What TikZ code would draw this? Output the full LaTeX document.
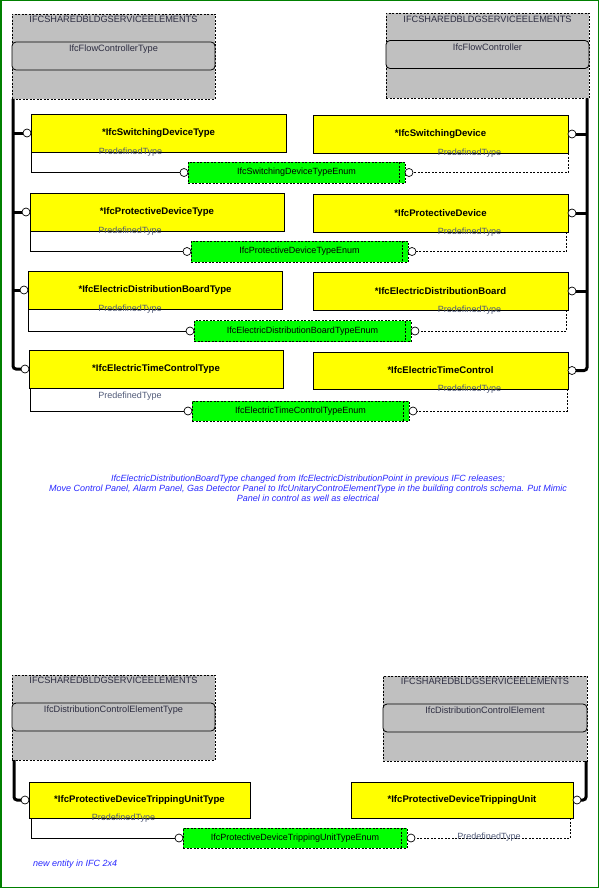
\documentclass[tikz,border=0pt]{standalone}
\usepackage{fontspec}
\setmainfont{Liberation Sans}
\usepackage{tikz}
\usetikzlibrary{positioning}

\definecolor{pkggray}{RGB}{192,192,192}
\definecolor{entyellow}{RGB}{255,255,0}
\definecolor{enumgreen}{RGB}{0,255,0}
\definecolor{framegreen}{RGB}{0,128,0}
\definecolor{pkgtext}{RGB}{45,45,65}
\definecolor{roletext}{RGB}{80,90,120}
\definecolor{notetext}{RGB}{40,40,255}

\tikzset{
  pkgbox/.style={draw, fill=pkggray, dash pattern=on 2pt off 1.5pt, line width=0.7pt,
    minimum width=203pt, minimum height=85pt, inner sep=0pt, outer sep=0pt},
  classbox/.style={draw, fill=pkggray, rounded corners=4pt, line width=0.8pt,
    minimum width=203pt, minimum height=28pt, inner sep=0pt, outer sep=0pt},
  pkgtitle/.style={inner sep=0pt, text=pkgtext, font=\fontsize{9.2}{10}\selectfont},
  entity/.style={draw, fill=entyellow, line width=0.8pt, minimum width=255pt,
    minimum height=38pt, inner sep=0pt, outer sep=0pt, font=\fontsize{9.6}{10}\selectfont\bfseries},
  enumbox/.style={draw, fill=enumgreen, dash pattern=on 2pt off 1.5pt, line width=0.7pt,
    minimum width=217pt, minimum height=21pt, inner sep=0pt, outer sep=0pt,
    font=\fontsize{9}{10}\selectfont},
  enumtick/.style={dash pattern=on 2pt off 1.5pt, line width=0.7pt},
  port/.style={circle, draw, fill=white, minimum size=8pt, inner sep=0pt, outer sep=0pt, line width=0.7pt},
  bus/.style={line width=3pt, rounded corners=3pt},
  role/.style={line width=0.8pt},
  roledash/.style={line width=0.7pt, dash pattern=on 2pt off 1.5pt},
  rolelbl/.style={inner sep=0pt, text=roletext, font=\fontsize{9}{10}\selectfont},
  notelbl/.style={inner sep=0pt, text=notetext, font=\fontsize{9}{10}\selectfont\itshape}
}

\begin{document}
\begin{tikzpicture}[x=1pt, y=-1pt]
\useasboundingbox (0,0) rectangle (600,888);
\draw[framegreen, line width=1.5pt] (0.75,0.75) rectangle (598.5,887.25);

% flow controller packages
\node[pkgbox] (ftpkg) at (113.5,56.5) {};
\node[pkgtitle, below=2pt of ftpkg.north] (fttitle) {IFCSHAREDBLDGSERVICEELEMENTS};
\node[classbox, below=28pt of ftpkg.north] (ftclass) {};
\node[pkgtitle, below=3pt of ftclass.north] (ftname) {IfcFlowControllerType};

\node[pkgbox] (fcpkg) at (487.5,56) {};
\node[pkgtitle, below=2pt of fcpkg.north] (fctitle) {IFCSHAREDBLDGSERVICEELEMENTS};
\node[classbox, below=27pt of fcpkg.north] (fcclass) {};
\node[pkgtitle, below=3pt of fcclass.north] (fcname) {IfcFlowController};

% switching device
\node[entity] (swtype) at (158.5,133) {*IfcSwitchingDeviceType};
\node[entity] (swdev) at (440.5,134) {*IfcSwitchingDevice};
\node[enumbox] (swenum) at (296.5,172.5) {IfcSwitchingDeviceTypeEnum};
\node[port, left=0pt of swtype] (swtypec) {};
\node[port, right=0pt of swdev] (swdevc) {};
\node[port, left=0pt of swenum] (swenuml) {};
\node[port, right=0pt of swenum] (swenumr) {};
\draw[enumtick] ([xshift=-6pt]swenum.north east) -- ([xshift=-6pt]swenum.south east);
\draw[role] (swtype.south west) |- (swenuml);
\draw[roledash] (swdev.south east) |- (swenumr);
\node[rolelbl] (swtyperole) at ([xshift=-28pt]swtype.south) {PredefinedType};
\node[rolelbl] (swdevrole) at ([xshift=29pt]swdev.south) {PredefinedType};

% protective device
\node[entity, minimum width=254pt] (pdtype) at (157,212) {*IfcProtectiveDeviceType};
\node[entity] (pddev) at (440.5,213) {*IfcProtectiveDevice};
\node[enumbox] (pdenum) at (299.5,251.5) {IfcProtectiveDeviceTypeEnum};
\node[port, left=0pt of pdtype] (pdtypec) {};
\node[port, right=0pt of pddev] (pddevc) {};
\node[port, left=0pt of pdenum] (pdenuml) {};
\node[port, right=0pt of pdenum] (pdenumr) {};
\draw[enumtick] ([xshift=-6pt]pdenum.north east) -- ([xshift=-6pt]pdenum.south east);
\draw[role] (pdtype.south west) |- (pdenuml);
\draw[roledash] ([xshift=-2pt]pddev.south east) |- (pdenumr);
\node[rolelbl] (pdtyperole) at ([xshift=-27pt]pdtype.south) {PredefinedType};
\node[rolelbl] (pddevrole) at ([xshift=29pt]pddev.south) {PredefinedType};

% distribution board
\node[entity, minimum width=254pt] (dbtype) at (155,290) {*IfcElectricDistributionBoardType};
\node[entity] (dbdev) at (440.5,291) {*IfcElectricDistributionBoard};
\node[enumbox] (dbenum) at (302.5,331) {IfcElectricDistributionBoardTypeEnum};
\node[port, left=0pt of dbtype] (dbtypec) {};
\node[port, right=0pt of dbdev] (dbdevc) {};
\node[port, left=0pt of dbenum] (dbenuml) {};
\node[port, right=0pt of dbenum] (dbenumr) {};
\draw[enumtick] ([xshift=-6pt]dbenum.north east) -- ([xshift=-6pt]dbenum.south east);
\draw[role] (dbtype.south west) |- (dbenuml);
\draw[roledash] ([xshift=-2pt]dbdev.south east) |- (dbenumr);
\node[rolelbl] (dbtyperole) at ([xshift=-25pt]dbtype.south) {PredefinedType};
\node[rolelbl] (dbdevrole) at ([xshift=29pt]dbdev.south) {PredefinedType};

% time control
\node[entity, minimum width=254pt] (tctype) at (156,369) {*IfcElectricTimeControlType};
\node[entity, minimum height=37pt] (tcdev) at (440.5,370.5) {*IfcElectricTimeControl};
\node[enumbox, minimum height=20pt] (tcenum) at (300.5,411) {IfcElectricTimeControlTypeEnum};
\node[port, left=0pt of tctype] (tctypec) {};
\node[port, right=0pt of tcdev] (tcdevc) {};
\node[port, left=0pt of tcenum] (tcenuml) {};
\node[port, right=0pt of tcenum] (tcenumr) {};
\draw[enumtick] ([xshift=-6pt]tcenum.north east) -- ([xshift=-6pt]tcenum.south east);
\draw[role] ([xshift=1pt]tctype.south west) |- (tcenuml);
\draw[roledash] ([xshift=-1pt]tcdev.south east) |- (tcenumr);
\node[rolelbl] (tctyperole) at ([xshift=-26pt, yshift=-8pt]tctype.south) {PredefinedType};
\node[rolelbl] (tcdevrole) at ([xshift=29pt]tcdev.south) {PredefinedType};

% subtype buses
\coordinate (ftbus) at ([xshift=1pt]ftpkg.south west);
\coordinate (fcbus) at ([xshift=-2pt]fcpkg.south east);
\draw[bus] (ftbus) |- (tctypec);
\draw[bus] (swtypec) -- (swtypec -| ftbus);
\draw[bus] (pdtypec) -- (pdtypec -| ftbus);
\draw[bus] (dbtypec) -- (dbtypec -| ftbus);
\draw[bus] (fcbus) |- (tcdevc);
\draw[bus] (swdevc) -- (swdevc -| fcbus);
\draw[bus] (pddevc) -- (pddevc -| fcbus);
\draw[bus] (dbdevc) -- (dbdevc -| fcbus);

% note
\node[notelbl, align=center] (histnote) at (308,488)
  {IfcElectricDistributionBoardType changed from IfcElectricDistributionPoint in previous IFC releases;\\
   Move Control Panel, Alarm Panel, Gas Detector Panel to IfcUnitaryControElementType in the building controls schema. Put Mimic\\
   Panel in control as well as electrical};

% distribution control packages
\node[pkgbox] (dcpkg) at (113.5,717.5) {};
\node[pkgtitle, below=2pt of dcpkg.north] (dctitle) {IFCSHAREDBLDGSERVICEELEMENTS};
\node[classbox, below=28pt of dcpkg.north] (dcclass) {};
\node[pkgtitle, below=3pt of dcclass.north] (dcname) {IfcDistributionControlElementType};

\node[pkgbox, minimum width=204pt] (depkg) at (485,718.5) {};
\node[pkgtitle, below=2pt of depkg.north] (detitle) {IFCSHAREDBLDGSERVICEELEMENTS};
\node[classbox, minimum width=204pt, below=28pt of depkg.north] (declass) {};
\node[pkgtitle, below=3pt of declass.north] (dename) {IfcDistributionControlElement};

% tripping unit
\node[entity, minimum width=221pt, minimum height=36pt] (tutype) at (139.5,800) {*IfcProtectiveDeviceTrippingUnitType};
\node[entity, minimum width=222pt, minimum height=36pt] (tudev) at (462,800) {*IfcProtectiveDeviceTrippingUnit};
\node[enumbox, minimum width=224pt, minimum height=20pt] (tuenum) at (295,838) {IfcProtectiveDeviceTrippingUnitTypeEnum};
\node[port, left=0pt of tutype] (tutypec) {};
\node[port, right=0pt of tudev] (tudevc) {};
\node[port, left=0pt of tuenum] (tuenuml) {};
\node[port, right=0pt of tuenum] (tuenumr) {};
\draw[enumtick] ([xshift=-6pt]tuenum.north east) -- ([xshift=-6pt]tuenum.south east);
\draw[role] ([xshift=2pt]tutype.south west) |- (tuenuml);
\draw[roledash] ([xshift=-3pt]tudev.south east) |- (tuenumr);
\node[rolelbl] (tutyperole) at ([xshift=-16pt]tutype.south) {PredefinedType};
\node[rolelbl] (tudevrole) at (489,837) {PredefinedType};
\draw[bus] ([xshift=2pt]dcpkg.south west) |- (tutypec);
\draw[bus] ([xshift=-1pt]depkg.south east) |- (tudevc);

\node[notelbl, anchor=west] (newnote) at (33,864) {new entity in IFC 2x4};
\end{tikzpicture}
\end{document}
